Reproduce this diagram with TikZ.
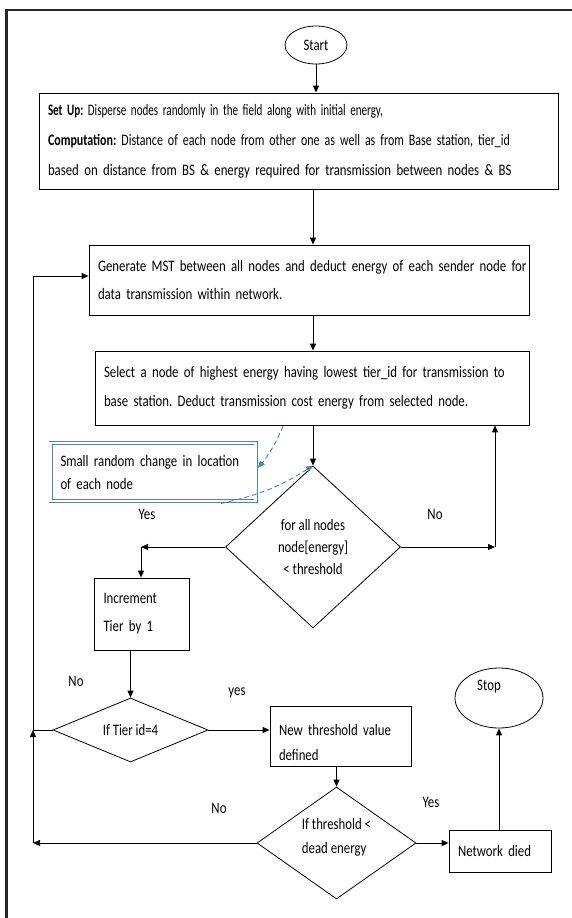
\documentclass[tikz,border=0pt]{standalone}
\usepackage{fontspec}
\usepackage{graphicx}
\setmainfont{Carlito}[FakeStretch=0.8]
\usetikzlibrary{arrows.meta,shapes.geometric,calc}
\definecolor{noteblue}{RGB}{79,129,189}
\frenchspacing
% set a line to a given width, squeezing it horizontally only
\newcommand{\hfit}[2]{\resizebox{#1}{\height}{#2}}
\begin{document}
\begin{tikzpicture}[x=1pt,y=-1pt,
  font=\fontsize{16}{18}\selectfont,
  box/.style={draw,line width=0.8pt,inner xsep=9pt,inner ysep=0pt},
  term/.style={draw,ellipse,line width=0.8pt,inner sep=0pt},
  decision/.style={draw,diamond,line width=0.8pt,inner sep=0pt,align=center},
  arr/.style={line width=1pt,-{Triangle[length=7pt,width=6pt]}},
  plain/.style={line width=1pt},
  note/.style={draw=noteblue,double=white,double distance=2.2pt,line width=0.9pt,inner xsep=10pt,inner ysep=0pt},
  notearr/.style={noteblue,dashed,dash pattern=on 5pt off 3pt,line width=0.9pt,-{Triangle[length=7pt,width=6pt]}},
  lbl/.style={inner sep=0pt}]
\useasboundingbox (0,0) rectangle (572,918);

% page frame (left and top edges)
\draw[line width=2.2pt,black!85] (6.5,918) -- (6.5,10) -- (572,10);

% terminals
\node[term,minimum width=62pt,minimum height=38pt] (start) at (316,45) {Start};
\node[term,minimum width=88pt,minimum height=60pt,
      label={[xshift=-10pt,yshift=11pt]center:Stop}] (stop) at (499,698) {};

% process boxes
\node[box,minimum width=519pt,minimum height=96pt,text width=501pt,align=left,
      font=\fontsize{16}{30}\selectfont] (setup) at (298.5,141)
  {\hfit{335pt}{\textbf{Set Up:} Disperse nodes randomly in the field along with initial energy,}\\
   \hfit{462pt}{\textbf{Computation:} Distance of each node from other one as well as from Base station, tier\_id}\\
   based on distance from BS \& energy required for transmission between nodes \& BS};

\node[box,minimum width=440pt,minimum height=70pt,text width=422pt,align=left,
      font=\fontsize{16}{28}\selectfont] (mst) at (309,280)
  {\makebox[422pt][s]{Generate MST between all nodes and deduct energy of each sender node for}\\
   data transmission within network.};

\node[box,minimum width=434pt,minimum height=74pt,text width=416pt,align=left,
      font=\fontsize{16}{29}\selectfont] (sel) at (312,388)
  {\makebox[416pt][s]{Select a node of highest energy having lowest tier\_id for transmission to}\\
   base station. Deduct transmission cost energy from selected node.};

\node[note,minimum width=205pt,minimum height=58pt,text width=185pt,align=left,
      font=\fontsize{16}{23}\selectfont] (rand) at (153,472)
  {Small random change in location\\of each node};

\node[box,minimum width=95pt,minimum height=72pt,text width=77pt,align=left,
      font=\fontsize{16}{28}\selectfont] (inc) at (142,614)
  {Increment\\Tier by 1};

\node[box,minimum width=141pt,minimum height=60pt,text width=123pt,align=left,
      font=\fontsize{16}{25}\selectfont] (thr) at (340.5,736)
  {\rule{0pt}{25pt}\makebox[123pt][s]{New threshold value}\\defined};

\node[box,minimum width=102pt,minimum height=42pt,text width=84pt,align=left] (died) at (500,851)
  {Network died};

% decisions
\node[decision,minimum width=175pt,minimum height=162pt,aspect=1,
      font=\fontsize{16}{22}\selectfont] (d1) at (313,547)
  {for all nodes\\node[energy]\\< threshold};
\node[decision,minimum width=155pt,minimum height=64pt,aspect=2.4] (d2) at (130.5,730)
  {If Tier id=4};
\node[decision,minimum width=159pt,minimum height=112pt,aspect=1.45,align=left,
      font=\fontsize{16}{24}\selectfont] (d3) at (336.5,843)
  {If threshold <\\dead energy\rule[-14pt]{0pt}{14pt}};

% branch labels
\node[lbl] (yes1) at (147,514) {Yes};
\node[lbl] (no1)  at (435,514) {No};
\node[lbl] (no2)  at (76,681)  {No};
\node[lbl] (yes2) at (237,693) {yes};
\node[lbl] (no3)  at (219,808) {No};
\node[lbl] (yes3) at (431,802) {Yes};

% bend points
\coordinate (yl) at (141,547);
\coordinate (nr) at (495,547);
\coordinate (loop) at (33,276);
\coordinate (lj) at (33,730);
\coordinate (lb) at (33,843);
\coordinate (selfoot) at (283,426);

% main flow
\draw[arr] (start) -- (start |- setup.north);
\draw[arr] (setup.south -| 313,0) -- (mst.north -| 313,0);
\draw[arr] (mst.south -| 313,0) -- (sel.north -| 313,0);
\draw[arr] (sel.south -| d1.north) -- (d1.north);

% first decision
\draw[arr] (d1.west) -- (yl);
\draw[arr] (yl) -- (yl |- inc.north);
\draw[arr] (d1.east) -- (nr);
\draw[arr] (nr) -- (nr |- sel.south);

% tier check
\draw[arr] (inc.south -| d2.north) -- (d2.north);
\draw[arr] (d2.east) -- (d2.east -| thr.west);
\draw[plain] (d2.west) -- (lj);
\draw[arr] (lj) -- (loop) -- (loop -| mst.west);

% threshold check
\draw[arr] (thr.south -| d3.north) -- (d3.north);
\draw[arr] (d3.west) -- (lb);
\draw[arr] (lb) -- (lj);
\draw[arr] (d3.east) -- (d3.east -| died.west);
\draw[arr] (died.north -| stop.south) -- (stop.south);

% note connectors
\draw[notearr] (selfoot) to[bend left=8] ($(rand.east)+(2,-4)$);
\draw[notearr] ($(rand.south)+(68,2)$) to[bend right=10] (d1.north);
\end{tikzpicture}
\end{document}
